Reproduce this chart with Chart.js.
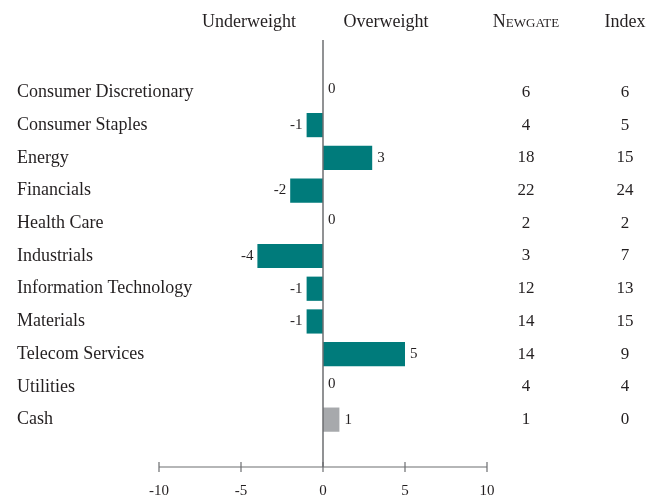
<!DOCTYPE html>
<html>
<head>
<meta charset="utf-8">
<script src="https://cdn.jsdelivr.net/npm/chart.js@4.4.1/dist/chart.umd.min.js"></script>
<style>
  body { margin: 0; background: #fff; }
</style>
</head>
<body>
<canvas id="chart" width="649" height="497"></canvas>
<script>
// sector data
var categories = ['Consumer Discretionary', 'Consumer Staples', 'Energy', 'Financials', 'Health Care',
  'Industrials', 'Information Technology', 'Materials', 'Telecom Services', 'Utilities', 'Cash'];
var weights = [0, -1, 3, -2, 0, -4, -1, -1, 5, 0, 1];
var newgateW = [6, 4, 18, 22, 2, 3, 12, 14, 14, 4, 1];
var indexW = [6, 5, 15, 24, 2, 7, 13, 15, 9, 4, 0];
var xTicks = [-10, -5, 0, 5, 10];

var FONT = "'Liberation Serif', 'DejaVu Serif', serif";
var TEXT = '#231f20';
var TEAL = '#007b7b';
var GREY = '#a7a9ac';

var extras = {
  id: 'extras',
  afterDraw: function(chart) {
    var ctx = chart.ctx;
    var x = chart.scales.x, y = chart.scales.y;
    var x0 = x.getPixelForValue(0);
    ctx.save();

    // zero line
    ctx.strokeStyle = '#6d6e71';
    ctx.lineWidth = 1.5;
    ctx.beginPath();
    ctx.moveTo(x0, 40);
    ctx.lineTo(x0, 467);
    ctx.stroke();

    // bottom axis with crossing ticks
    var ay = 467;
    ctx.lineWidth = 1.2;
    ctx.beginPath();
    ctx.moveTo(x.getPixelForValue(xTicks[0]), ay);
    ctx.lineTo(x.getPixelForValue(xTicks[xTicks.length - 1]), ay);
    xTicks.forEach(function(t) {
      var px = x.getPixelForValue(t);
      ctx.moveTo(px, ay - 5);
      ctx.lineTo(px, ay + 5);
    });
    ctx.stroke();

    ctx.fillStyle = TEXT;
    ctx.textBaseline = 'middle';

    // headers
    ctx.font = '18px ' + FONT;
    ctx.textAlign = 'center';
    ctx.fillText('Underweight', x0 - 74, 22);
    ctx.fillText('Overweight', x0 + 63, 22);
    ctx.fillText('Index', 625, 22);
    ctx.font = 'small-caps 18px ' + FONT;
    ctx.fillText('Newgate', 526, 22);

    // bar value labels and side columns
    var meta = chart.getDatasetMeta(0);
    weights.forEach(function(v, i) {
      var py = y.getPixelForValue(i);
      var bar = meta.data[i];
      ctx.font = '15px ' + FONT;
      if (v < 0) {
        ctx.textAlign = 'right';
        ctx.fillText(String(v), bar.x - 4, py);
      } else {
        ctx.textAlign = 'left';
        ctx.fillText(String(v), (v === 0 ? x0 : bar.x) + 5, py - 3 * (v === 0));
      }
      ctx.font = '17px ' + FONT;
      ctx.textAlign = 'center';
      ctx.fillText(String(newgateW[i]), 526, py);
      ctx.fillText(String(indexW[i]), 625, py);
    });
    ctx.restore();
  }
};

new Chart(document.getElementById('chart'), {
  type: 'bar',
  data: {
    labels: categories,
    datasets: [{
      data: weights,
      backgroundColor: function(c) { return c.index === categories.length - 1 ? GREY : TEAL; },
      barPercentage: 0.74,
      categoryPercentage: 1
    }]
  },
  options: {
    indexAxis: 'y',
    responsive: false,
    animation: false,
    layout: { padding: { left: 17, right: 162, top: 76, bottom: 0 } },
    plugins: { legend: { display: false }, tooltip: { enabled: false } },
    scales: {
      x: {
        min: -10,
        max: 10,
        afterFit: function(s) { s.height = 61; },
        afterBuildTicks: function(s) { s.ticks = xTicks.map(function(v) { return { value: v }; }); },
        grid: { display: false, drawTicks: false },
        border: { display: false },
        ticks: { color: TEXT, padding: 46, font: { family: FONT, size: 15 } }
      },
      y: {
        afterFit: function(s) { s.width = 142; },
        grid: { display: false, drawTicks: false },
        border: { display: false },
        ticks: { color: TEXT, mirror: true, crossAlign: 'near', padding: -142, font: { family: FONT, size: 18 } }
      }
    }
  },
  plugins: [extras]
});
</script>
</body>
</html>
